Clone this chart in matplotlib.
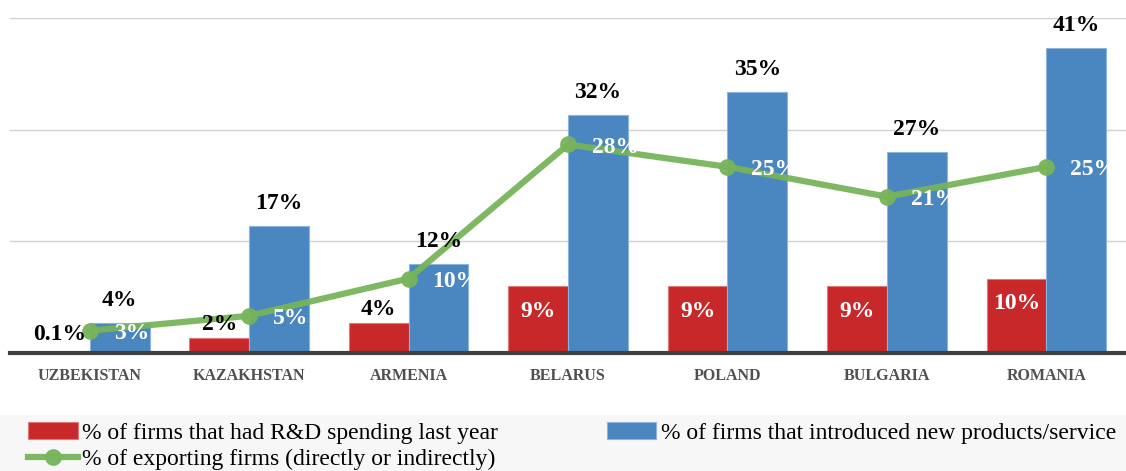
import matplotlib
matplotlib.use("Agg")
import matplotlib.pyplot as plt
import numpy as np
from matplotlib.patches import Rectangle

# --- Datos ---
paises = ["UZBEKISTAN", "KAZAKHSTAN", "ARMENIA", "BELARUS", "POLAND", "BULGARIA", "ROMANIA"]
rd_gasto = [0.1, 2, 4, 9, 9, 9, 10]
nuevos_productos = [4, 17, 12, 32, 35, 27, 41]
exportadoras = [3, 5, 10, 28, 25, 21, 25]

etiq_rd = ["0.1%", "2%", "4%", "9%", "9%", "9%", "10%"]
etiq_nuevos = ["4%", "17%", "12%", "32%", "35%", "27%", "41%"]
etiq_export = ["3%", "5%", "10%", "28%", "25%", "21%", "25%"]

ROJO = "#c9282a"
AZUL = "#4a86c0"
VERDE = "#77b45a"
SERIF = "Liberation Serif"

fig = plt.figure(figsize=(11.26, 4.71), dpi=100)
# fondo gris claro de la leyenda
fig.patches.append(Rectangle((0, 0), 1, 56 / 471, transform=fig.transFigure,
                             facecolor="#f7f7f7", edgecolor="none", zorder=0))
ax = fig.add_axes([0.009, 0.2505, 0.991, 0.7115])

x = np.arange(len(paises))
w = 0.375
b1 = ax.bar(x - w / 2, rd_gasto, w, color=ROJO, edgecolor="#e07a7a", linewidth=0.8,
            label="% of firms that had R&D spending last year", zorder=2)
b2 = ax.bar(x + w / 2, nuevos_productos, w, color=AZUL, edgecolor="#8db4dc", linewidth=0.8,
            label="% of firms that introduced new products/service", zorder=2)
ln, = ax.plot(x, exportadoras, color=VERDE, linewidth=4.5, marker="o", markersize=11,
              alpha=0.95, label="% of exporting firms (directly or indirectly)", zorder=3)

fuente = dict(family=SERIF, fontweight="bold", fontsize=17)
for xi, v, t in zip(x, rd_gasto, etiq_rd):
    if v >= 8:
        ax.text(xi - w / 2, v - 3.4, t, ha="center", va="center", color="white", zorder=5, **fuente)
    else:
        ax.text(xi - w / 2, v + 0.4 + (0.6 if v < 1 else 0), t,
                ha="center", va="bottom", color="black", zorder=5, **fuente)
for xi, v, t in zip(x, nuevos_productos, etiq_nuevos):
    ax.text(xi + w / 2, v + 1.6, t, ha="center", va="bottom", color="black", zorder=5, **fuente)
for xi, v, t in zip(x, exportadoras, etiq_export):
    ax.text(xi + 0.15, v - 0.4, t, ha="left", va="center", color="white", zorder=5,
            clip_on=False, **fuente)

ax.set_xlim(-0.5, len(paises) - 0.5)
ax.set_ylim(0, 45)
ax.set_yticks([0, 15, 30, 45])
ax.set_yticklabels([])
ax.tick_params(axis="y", length=0)
ax.tick_params(axis="x", length=0, pad=11)
ax.set_xticks(x)
ax.set_xticklabels(paises, family=SERIF, fontweight="bold", fontsize=11.5, color="#505050")
ax.grid(axis="y", color="#d0d0d0", linewidth=1)
ax.set_axisbelow(True)
for s in ["top", "right", "left"]:
    ax.spines[s].set_visible(False)
ax.spines["bottom"].set_color("#404040")
ax.spines["bottom"].set_linewidth(3)
ax.spines["bottom"].set_zorder(4)

# orden por columnas: [rojo, verde] | [azul]
leg = fig.legend(handles=[b1, ln, b2], loc="lower left", bbox_to_anchor=(0.006, -0.044),
                 ncol=2, frameon=False, prop=dict(family=SERIF, size=17),
                 handlelength=2.1, handletextpad=0.2, columnspacing=4.6, labelspacing=0.22)

plt.savefig("out.png", dpi=100)
